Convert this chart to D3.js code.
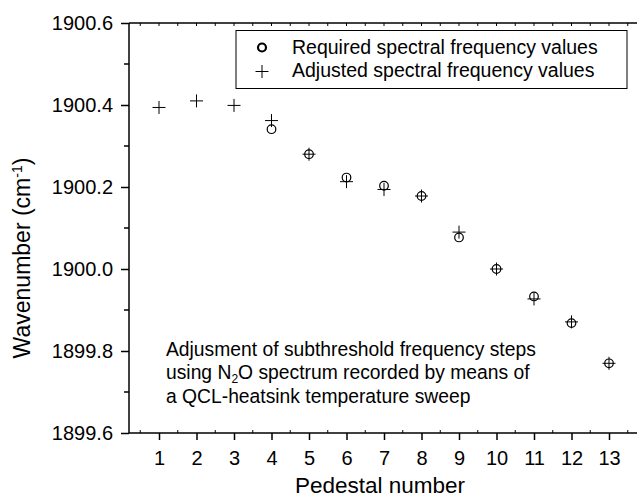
<!DOCTYPE html>
<html>
<head>
  <script src="https://d3js.org/d3.v7.min.js"></script>
  <style>
    body { margin: 0; background: #fff; }
    text { font-family: "Liberation Sans", Arial, Helvetica, sans-serif; fill: #000; }
  </style>
</head>
<body>
  <div id="chart"></div>
  <script>
    // pedestal numbers and wavenumbers (cm-1)
    const pedestals = [1, 2, 3, 4, 5, 6, 7, 8, 9, 10, 11, 12, 13];
    const requiredPed = [4, 5, 6, 7, 8, 9, 10, 11, 12, 13];
    const requiredVals = [1900.341, 1900.280, 1900.223, 1900.203, 1900.178, 1900.077, 1900.000, 1899.933, 1899.868, 1899.770];
    const adjustedVals = [1900.394, 1900.410, 1900.399, 1900.362, 1900.280, 1900.213, 1900.194, 1900.178, 1900.090, 1900.000, 1899.927, 1899.871, 1899.770];
    const yTicks = [1899.6, 1899.8, 1900.0, 1900.2, 1900.4, 1900.6];
    const legendLabels = ["Required spectral frequency values", "Adjusted spectral frequency values"];
    const noteLines = ["Adjusment of subthreshold frequency steps", "using N|2|O spectrum recorded by means of", "a QCL-heatsink temperature sweep"];

    const W = 637, H = 499;
    const mLeft = 129, mTop = 23, mBottom = 433, mRight = 639;

    const svg = d3.select("#chart").append("svg").attr("width", W).attr("height", H);

    const x = d3.scaleLinear().domain([0.2, 13.8]).range([mLeft, mRight]);
    const y = d3.scaleLinear().domain([1899.6, 1900.6]).range([mBottom, mTop]);

    // frame lines (left, bottom, top)
    svg.append("line").attr("x1", mLeft).attr("x2", mLeft).attr("y1", mTop).attr("y2", mBottom)
      .attr("stroke", "#000").attr("stroke-width", 1.5);
    svg.append("line").attr("x1", mLeft).attr("x2", mRight).attr("y1", mBottom).attr("y2", mBottom)
      .attr("stroke", "#000").attr("stroke-width", 1.5);
    svg.append("line").attr("x1", mLeft).attr("x2", mRight).attr("y1", mTop).attr("y2", mTop)
      .attr("stroke", "#000").attr("stroke-width", 1.5);

    // x axis
    const xAxis = d3.axisBottom(x).tickValues(pedestals).tickSize(7).tickPadding(11).tickFormat(d3.format("d"));
    const gx = svg.append("g").attr("transform", `translate(0,${mBottom})`).call(xAxis);
    gx.select(".domain").remove();
    gx.selectAll("line").attr("stroke-width", 1.5);
    gx.selectAll("text").style("font-size", "20px").attr("font-family", null);

    // minor ticks on bottom and top
    const xMinor = d3.range(0.5, 13.8, 0.5).filter(v => v % 1 !== 0);
    svg.append("g").selectAll("line").data(xMinor).join("line")
      .attr("x1", d => x(d)).attr("x2", d => x(d)).attr("y1", mBottom).attr("y2", mBottom - 3)
      .attr("stroke", "#000").attr("stroke-width", 1);
    svg.append("g").selectAll("line").data(d3.range(0.5, 13.8, 0.5)).join("line")
      .attr("x1", d => x(d)).attr("x2", d => x(d)).attr("y1", mTop).attr("y2", mTop + 3)
      .attr("stroke", "#000").attr("stroke-width", 1);

    // y axis
    const yAxis = d3.axisLeft(y).tickValues(yTicks).tickSize(8).tickPadding(8).tickFormat(d3.format(".1f"));
    const gy = svg.append("g").attr("transform", `translate(${mLeft},0)`).call(yAxis);
    gy.select(".domain").remove();
    gy.selectAll("line").attr("stroke-width", 1.5);
    gy.selectAll("text").style("font-size", "20px").attr("font-family", null);

    const yMinor = [1899.7, 1899.9, 1900.1, 1900.3, 1900.5];
    svg.append("g").selectAll("line").data(yMinor).join("line")
      .attr("x1", mLeft).attr("x2", mLeft - 5).attr("y1", d => y(d)).attr("y2", d => y(d))
      .attr("stroke", "#000").attr("stroke-width", 1.5);

    // axis titles
    svg.append("text").attr("x", 380).attr("y", 493).attr("text-anchor", "middle")
      .style("font-size", "22.5px").text("Pedestal number");
    const yl = svg.append("text").attr("transform", "translate(30,258) rotate(-90)")
      .attr("text-anchor", "middle").style("font-size", "23px");
    yl.append("tspan").text("Wavenumber (cm");
    yl.append("tspan").attr("dy", -8).style("font-size", "14px").text("-1");
    yl.append("tspan").attr("dy", 8).text(")");

    const plus = (g, sz) => g.append("path").attr("d", `M${-sz},0H${sz}M0,${-sz}V${sz}`)
      .attr("stroke", "#000").attr("stroke-width", 1).attr("fill", "none");

    // required: circles
    svg.append("g").selectAll("circle").data(requiredPed.map((p, i) => [p, requiredVals[i]])).join("circle")
      .attr("cx", d => x(d[0])).attr("cy", d => y(d[1])).attr("r", 4.3)
      .attr("fill", "none").attr("stroke", "#000").attr("stroke-width", 1.2);

    // adjusted: plus marks
    svg.append("g").selectAll("g").data(pedestals.map((p, i) => [p, adjustedVals[i]])).join("g")
      .attr("transform", d => `translate(${x(d[0])},${y(d[1])})`)
      .each(function() { plus(d3.select(this), 6.5); });

    // legend
    svg.append("rect").attr("x", 236).attr("y", 30.5).attr("width", 391).attr("height", 58)
      .attr("fill", "#fff").attr("stroke", "#000").attr("stroke-width", 1);
    svg.append("circle").attr("cx", 262).attr("cy", 47.5).attr("r", 4)
      .attr("fill", "none").attr("stroke", "#000").attr("stroke-width", 2.2);
    plus(svg.append("g").attr("transform", "translate(262,71.5)"), 6.5);
    legendLabels.forEach((t, i) => {
      svg.append("text").attr("x", 292).attr("y", 53.5 + i * 23.3)
        .style("font-size", "19.5px").text(t);
    });

    // annotation
    noteLines.forEach((t, i) => {
      const txt = svg.append("text").attr("x", 166).attr("y", 356 + i * 23.3).style("font-size", "19.3px");
      t.split("|").forEach((part, j) => {
        if (j === 1) txt.append("tspan").attr("dy", 4).style("font-size", "12px").text(part);
        else if (j === 2) txt.append("tspan").attr("dy", -4).text(part);
        else txt.append("tspan").text(part);
      });
    });
  </script>
</body>
</html>
